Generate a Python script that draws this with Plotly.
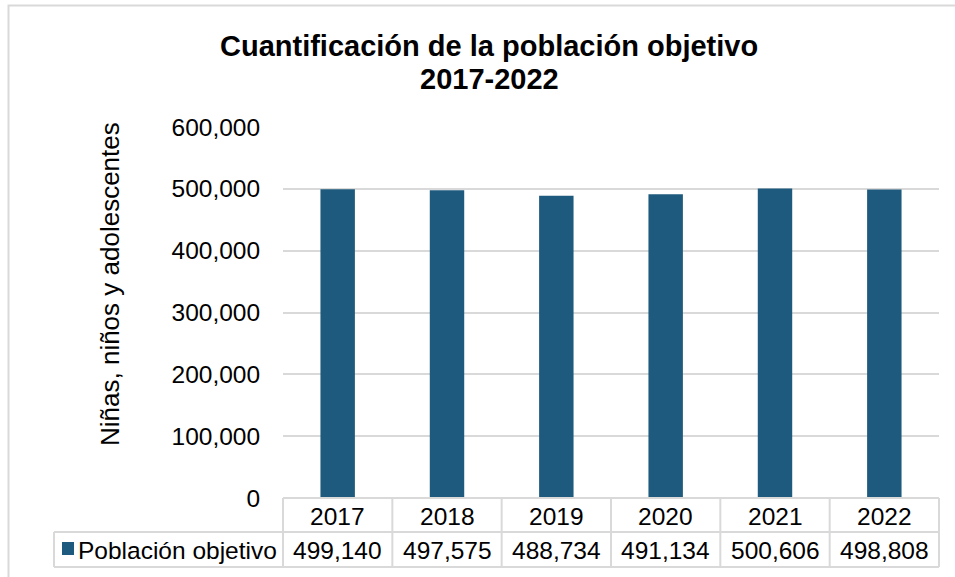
import plotly.graph_objects as go

years = ["2017", "2018", "2019", "2020", "2021", "2022"]
poblacion = [499140, 497575, 488734, 491134, 500606, 498808]
series_name = "Población objetivo"
title_line1 = "Cuantificación de la población objetivo"
title_line2 = "2017-2022"
y_title = "Niñas, niños y adolescentes"
y_ticks = [0, 100000, 200000, 300000, 400000, 500000, 600000]

W, H = 955, 577
L, R, T, B = 283, 939, 127, 498
PW, PH = R - L, B - T
FONT = "Liberation Sans, Arial, sans-serif"
BAR = "#1E5A7D"
GRID = "#D9D9D9"
FS = 24.5


def px(x):
    return (x - L) / PW


def py(y):
    return (B - y) / PH


fig = go.Figure()
fig.add_trace(go.Bar(x=years, y=poblacion, name=series_name,
                     marker=dict(color=BAR, line=dict(width=0)),
                     showlegend=False))

shapes = []
annotations = []
n = len(years)
line = dict(color=GRID, width=2)
for i in range(n + 1):
    shapes.append(dict(type="line", xref="paper", yref="paper",
                       x0=i / n, x1=i / n, y0=py(498), y1=py(567), line=line))
shapes.append(dict(type="line", xref="paper", yref="paper",
                   x0=px(54), x1=px(54), y0=py(532), y1=py(567), line=line))
shapes.append(dict(type="line", xref="paper", yref="paper",
                   x0=0, x1=1, y0=py(498), y1=py(498), line=line))
shapes.append(dict(type="line", xref="paper", yref="paper",
                   x0=px(54), x1=1, y0=py(532), y1=py(532), line=line))
shapes.append(dict(type="line", xref="paper", yref="paper",
                   x0=px(54), x1=1, y0=py(567), y1=py(567), line=line))
shapes.append(dict(type="rect", xref="paper", yref="paper",
                   x0=px(62), x1=px(74), y0=py(542), y1=py(555),
                   fillcolor=BAR, line=dict(width=0)))
shapes.append(dict(type="rect", xref="paper", yref="paper",
                   x0=px(8.5), x1=px(1000), y0=py(5.5), y1=py(620),
                   line=dict(color=GRID, width=2), fillcolor="rgba(0,0,0,0)"))

for i, (yr, v) in enumerate(zip(years, poblacion)):
    annotations.append(dict(xref="paper", yref="paper", x=(i + 0.5) / n, y=py(516),
                            text=yr, showarrow=False, xanchor="center", yanchor="middle",
                            font=dict(size=FS, color="#000000", family=FONT)))
    annotations.append(dict(xref="paper", yref="paper", x=(i + 0.5) / n, y=py(550),
                            text=f"{v:,}", showarrow=False, xanchor="center", yanchor="middle",
                            font=dict(size=FS, color="#000000", family=FONT)))
annotations.append(dict(xref="paper", yref="paper", x=px(76), y=py(550),
                        text=series_name, showarrow=False, xanchor="left", yanchor="middle",
                        font=dict(size=FS, color="#000000", family=FONT)))
annotations.append(dict(xref="paper", yref="paper", x=px(489), y=py(46),
                        text=f"<b>{title_line1}</b>", showarrow=False,
                        xanchor="center", yanchor="middle",
                        font=dict(size=29, color="#000000", family=FONT)))
annotations.append(dict(xref="paper", yref="paper", x=px(489), y=py(79),
                        text=f"<b>{title_line2}</b>", showarrow=False,
                        xanchor="center", yanchor="middle",
                        font=dict(size=29, color="#000000", family=FONT)))
annotations.append(dict(xref="paper", yref="paper", x=px(110), y=py(284),
                        text=y_title, showarrow=False, textangle=-90,
                        xanchor="center", yanchor="middle",
                        font=dict(size=26, color="#000000", family=FONT)))

fig.update_layout(
    width=W, height=H,
    margin=dict(l=L, r=W - R, t=T, b=H - B, pad=0),
    paper_bgcolor="#FFFFFF", plot_bgcolor="#FFFFFF",
    bargap=0.685,
    shapes=shapes, annotations=annotations,
    font=dict(family=FONT, color="#000000"),
    xaxis=dict(showticklabels=False, showgrid=False, zeroline=False,
               showline=False, ticks="", fixedrange=True),
    yaxis=dict(range=[0, 600000], tickvals=y_ticks,
               ticktext=[f"{t:,}" for t in y_ticks],
               showgrid=True, gridcolor=GRID, gridwidth=2,
               zeroline=False, showline=False,
               ticks="outside", ticklen=17, tickcolor="rgba(0,0,0,0)",
               tickfont=dict(size=FS, color="#000000", family=FONT),
               fixedrange=True),
)

fig.write_html("out.html", config={"displayModeBar": False},
               post_script="document.body.style.margin='0px';document.body.style.overflow='hidden';")
